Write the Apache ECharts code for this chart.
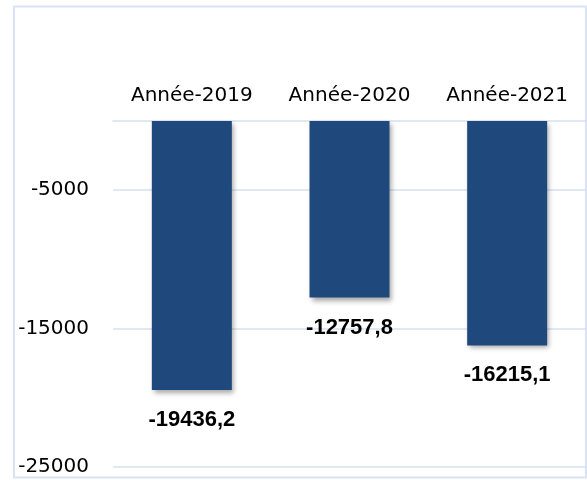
<!DOCTYPE html>
<html>
<head>
<meta charset="utf-8">
<script src="https://cdn.jsdelivr.net/npm/echarts@6/dist/echarts.min.js"></script>
<style>
  html, body { margin: 0; padding: 0; background: #fff; }
  #chart { width: 587px; height: 480px; }
</style>
</head>
<body>
<div id="chart"></div>
<script>
var categories = ['Année-2019', 'Année-2020', 'Année-2021'];
var values = [-19436.2, -12757.8, -16215.1];
var yTicks = [-5000, -15000, -25000];

var gridColor = '#d6e1f0';

var myChart = echarts.init(document.getElementById('chart'));
var option = {
    animation: false,
    graphic: [{
        type: 'rect',
        shape: { x: 14, y: 6.5, width: 572, height: 471 },
        style: { fill: 'none', stroke: '#dae3f3', lineWidth: 2 },
        silent: true
    }],
    grid: { left: 113, right: 1, top: 121, bottom: 13 },
    xAxis: {
        type: 'category',
        position: 'top',
        data: categories,
        axisLine: { show: true, onZero: false, lineStyle: { color: gridColor, width: 1.5 } },
        axisTick: { show: false },
        axisLabel: {
            interval: 0,
            hideOverlap: false,
            margin: 15,
            fontFamily: 'DejaVu Sans',
            fontSize: 20,
            color: '#000'
        }
    },
    yAxis: {
        type: 'value',
        min: -25000,
        max: 0,
        axisLine: { show: false },
        axisTick: { show: false, customValues: yTicks },
        splitLine: { show: true, customValues: yTicks, lineStyle: { color: gridColor, width: 1.5 } },
        axisLabel: {
            customValues: yTicks,
            margin: 24,
            fontFamily: 'DejaVu Sans',
            fontSize: 20,
            color: '#000',
            formatter: function (v) { return String(v); }
        }
    },
    series: [{
        type: 'bar',
        data: values,
        barWidth: 80,
        itemStyle: {
            color: '#1f497c',
            shadowBlur: 5,
            shadowOffsetX: 2,
            shadowOffsetY: 3,
            shadowColor: 'rgba(0,0,0,0.35)'
        },
        label: {
            show: true,
            position: 'bottom',
            distance: 19,
            fontFamily: 'Liberation Sans',
            fontWeight: 'bold',
            fontSize: 22,
            color: '#000',
            formatter: function (p) {
                return String(p.value).replace('.', ',');
            }
        }
    }]
};
myChart.setOption(option);
</script>
</body>
</html>
